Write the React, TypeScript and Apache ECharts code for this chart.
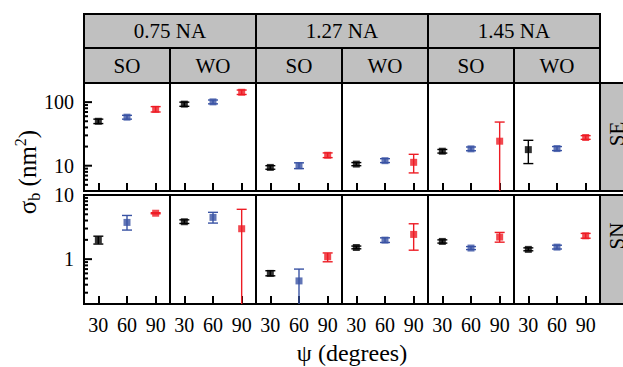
import React, { useEffect, useRef } from 'react';
import * as echarts from 'echarts';

// ---- data ----
const naLabels = ['0.75 NA', '1.27 NA', '1.45 NA'];
const mediumLabels = ['SO', 'WO', 'SO', 'WO', 'SO', 'WO'];
const rowLabels = ['SE', 'SN'];
const angles = [30, 60, 90];
const seriesColors = ['#000000', '#3953a4', '#ed1c24'];

// SE row: per panel, values at psi = 30, 60, 90
const seValue = [[50, 58, 77], [93, 101, 143], [9.4, 10, 14.6], [10.6, 12, 11.3], [16.9, 18.4, 24.3], [17.9, 18.6, 27.8]];
const seLow = [[46, 54, 70], [86, 94, 132], [8.8, 9.0, 13.4], [10, 11.2, 7.7], [15.8, 17.2, 1], [10.8, 17.3, 26]];
const seHigh = [[54, 62, 85], [100, 108, 155], [10, 11.1, 15.9], [11.2, 12.9, 15.1], [18, 19.7, 48.6], [25.1, 20, 29.7]];

// SN row
const snValue = [[1.98, 3.74, 5.2], [3.83, 4.48, 2.98], [0.6, 0.458, 1.09], [1.52, 1.98, 2.43], [1.89, 1.49, 2.21], [1.42, 1.54, 2.31]];
const snLow = [[1.72, 2.84, 5.1], [3.6, 3.65, 0.05], [0.55, 0.05, 0.91], [1.45, 1.82, 1.38], [1.78, 1.41, 1.84], [1.35, 1.44, 2.12]];
const snHigh = [[2.28, 4.8, 5.3], [4.1, 5.37, 5.98], [0.66, 0.7, 1.25], [1.6, 2.15, 3.56], [2.0, 1.57, 2.61], [1.5, 1.65, 2.52]];

const rowRanges = [[4, 200], [0.2, 10]];
const seMajorTicks = [10, 100];
const seMinorTicks = [5, 6, 7, 8, 9, 20, 30, 40, 50, 60, 70, 80, 90];
const snMajorTicks = [1, 10];
const snMinorTicks = [0.3, 0.4, 0.5, 0.6, 0.7, 0.8, 0.9, 2, 3, 4, 5, 6, 7, 8, 9];
const xRange = [15, 105];

const FONT = 'Liberation Serif';

function buildOption() {
  const LEFT = 84;
  const COLW = 86;
  const rowTop = [83, 195];
  const rowH = [108, 109];
  const values = [seValue, snValue];
  const lows = [seLow, snLow];
  const highs = [seHigh, snHigh];
  const majors = [seMajorTicks, snMajorTicks];
  const minors = [seMinorTicks, snMinorTicks];

  const grid: any[] = [];
  const xAxis: any[] = [];
  const yAxis: any[] = [];
  const series: any[] = [];

  for (let r = 0; r < 2; r++) {
    for (let c = 0; c < 6; c++) {
      const gi = grid.length;
      grid.push({
        left: LEFT + COLW * c,
        top: rowTop[r],
        width: COLW,
        height: rowH[r],
        show: true,
        borderColor: '#000',
        borderWidth: 2,
        backgroundColor: '#fff',
      });
      xAxis.push({
        type: 'value',
        gridIndex: gi,
        min: xRange[0],
        max: xRange[1],
        axisLine: { show: false },
        splitLine: { show: false },
        axisTick: {
          show: true,
          inside: true,
          length: 8,
          customValues: angles,
          lineStyle: { color: '#000', width: 2 },
        },
        axisLabel: {
          show: r === 1,
          customValues: angles,
          fontSize: 20,
          fontFamily: FONT,
          color: '#000',
          margin: 11,
        },
      });
      yAxis.push({
        type: 'log',
        logBase: 10,
        gridIndex: gi,
        min: rowRanges[r][0],
        max: rowRanges[r][1],
        axisLine: { show: false },
        splitLine: { show: false },
        axisTick: { show: false },
        axisLabel: {
          show: c === 0,
          fontSize: 20,
          fontFamily: FONT,
          color: '#000',
          margin: 10,
          showMinLabel: true,
          showMaxLabel: true,
          formatter: (v: number) => {
            const l = Math.log10(v);
            if (Math.abs(l - Math.round(l)) < 1e-6) return String(Math.round(Math.pow(10, Math.round(l)) * 1000) / 1000);
            return '';
          },
        },
      });

      const errData = angles.map((a, k) => [a, lows[r][c][k], highs[r][c][k], k]);
      series.push({
        type: 'custom',
        xAxisIndex: gi,
        yAxisIndex: gi,
        clip: true,
        data: errData,
        renderItem: (params: any, api: any) => {
          const x = api.value(0);
          const lo = api.coord([x, api.value(1)]);
          const hi = api.coord([x, api.value(2)]);
          const color = seriesColors[api.value(3)];
          const hw = 5;
          const style = { stroke: color, lineWidth: 1.4, fill: 'none' };
          return {
            type: 'group',
            children: [
              { type: 'line', shape: { x1: lo[0], y1: lo[1], x2: hi[0], y2: hi[1] }, style },
              { type: 'line', shape: { x1: lo[0] - hw, y1: lo[1], x2: lo[0] + hw, y2: lo[1] }, style },
              { type: 'line', shape: { x1: hi[0] - hw, y1: hi[1], x2: hi[0] + hw, y2: hi[1] }, style },
            ],
          };
        },
        z: 3,
      });
      series.push({
        type: 'scatter',
        xAxisIndex: gi,
        yAxisIndex: gi,
        symbol: 'rect',
        symbolSize: 7,
        data: angles.map((a, k) => ({ value: [a, values[r][c][k]], itemStyle: { color: seriesColors[k] } })),
        z: 4,
      });

      if (c === 0) {
        const tickData = [
          ...majors[r].map((v) => [xRange[0], v, 8]),
          ...minors[r].map((v) => [xRange[0], v, 4]),
        ];
        series.push({
          type: 'custom',
          xAxisIndex: gi,
          yAxisIndex: gi,
          data: tickData,
          renderItem: (params: any, api: any) => {
            const p = api.coord([api.value(0), api.value(1)]);
            const len = api.value(2);
            return {
              type: 'line',
              shape: { x1: p[0], y1: p[1], x2: p[0] + len, y2: p[1] },
              style: { stroke: '#000', lineWidth: 2 },
            };
          },
          z: 5,
        });
      }
    }
  }

  const graphic: any[] = [];
  const headFill = '#c0c0c0';
  naLabels.forEach((t, i) => {
    graphic.push({
      type: 'rect',
      shape: { x: 84 + 172 * i, y: 14, width: 172, height: 34 },
      style: { fill: headFill, stroke: '#000', lineWidth: 2 },
    });
    graphic.push({
      type: 'text',
      x: 84 + 172 * i + 86,
      y: 31,
      style: { text: t, fontSize: 21, fontFamily: FONT, fill: '#000', align: 'center', verticalAlign: 'middle' },
    });
  });
  mediumLabels.forEach((t, j) => {
    graphic.push({
      type: 'rect',
      shape: { x: 84 + 86 * j, y: 48, width: 86, height: 35 },
      style: { fill: headFill, stroke: '#000', lineWidth: 2 },
    });
    graphic.push({
      type: 'text',
      x: 84 + 86 * j + 43,
      y: 66,
      style: { text: t, fontSize: 21, fontFamily: FONT, fill: '#000', align: 'center', verticalAlign: 'middle' },
    });
  });
  const stripY = [[83, 108, 134], [195, 109, 236]];
  rowLabels.forEach((t, r) => {
    graphic.push({
      type: 'rect',
      shape: { x: 600, y: stripY[r][0], width: 40, height: stripY[r][1] },
      style: { fill: headFill, stroke: '#000', lineWidth: 2 },
    });
    graphic.push({
      type: 'text',
      x: 617,
      y: stripY[r][2],
      rotation: Math.PI / 2,
      style: { text: t, fontSize: 21, fontFamily: FONT, fill: '#000', align: 'center', verticalAlign: 'middle' },
    });
  });
  graphic.push({
    type: 'text',
    x: 27,
    y: 172,
    rotation: Math.PI / 2,
    style: {
      text: '{a|σ}{b|b}{a| (nm}{c|2}{a|)}',
      fontFamily: FONT,
      fill: '#000',
      align: 'center',
      verticalAlign: 'middle',
      rich: {
        a: { fontSize: 25, fontFamily: FONT, lineHeight: 30, fill: '#000' },
        b: { fontSize: 16, fontFamily: FONT, lineHeight: 14, verticalAlign: 'bottom', fill: '#000' },
        c: { fontSize: 16, fontFamily: FONT, lineHeight: 14, verticalAlign: 'top', fill: '#000' },
      },
    },
  });
  graphic.push({
    type: 'text',
    x: 352,
    y: 353,
    style: { text: 'ψ (degrees)', fontSize: 24, fontFamily: FONT, fill: '#000', align: 'center', verticalAlign: 'middle' },
  });

  return {
    animation: false,
    backgroundColor: '#fff',
    grid,
    xAxis,
    yAxis,
    series,
    graphic,
  };
}

export default function App() {
  const ref = useRef<HTMLDivElement>(null);
  useEffect(() => {
    document.body.style.margin = '0';
    if (!ref.current) return;
    const chart = echarts.init(ref.current, undefined, { renderer: 'svg' });
    chart.setOption(buildOption() as any);
    return () => chart.dispose();
  }, []);
  return <div ref={ref} style={{ width: 623, height: 367 }} />;
}
